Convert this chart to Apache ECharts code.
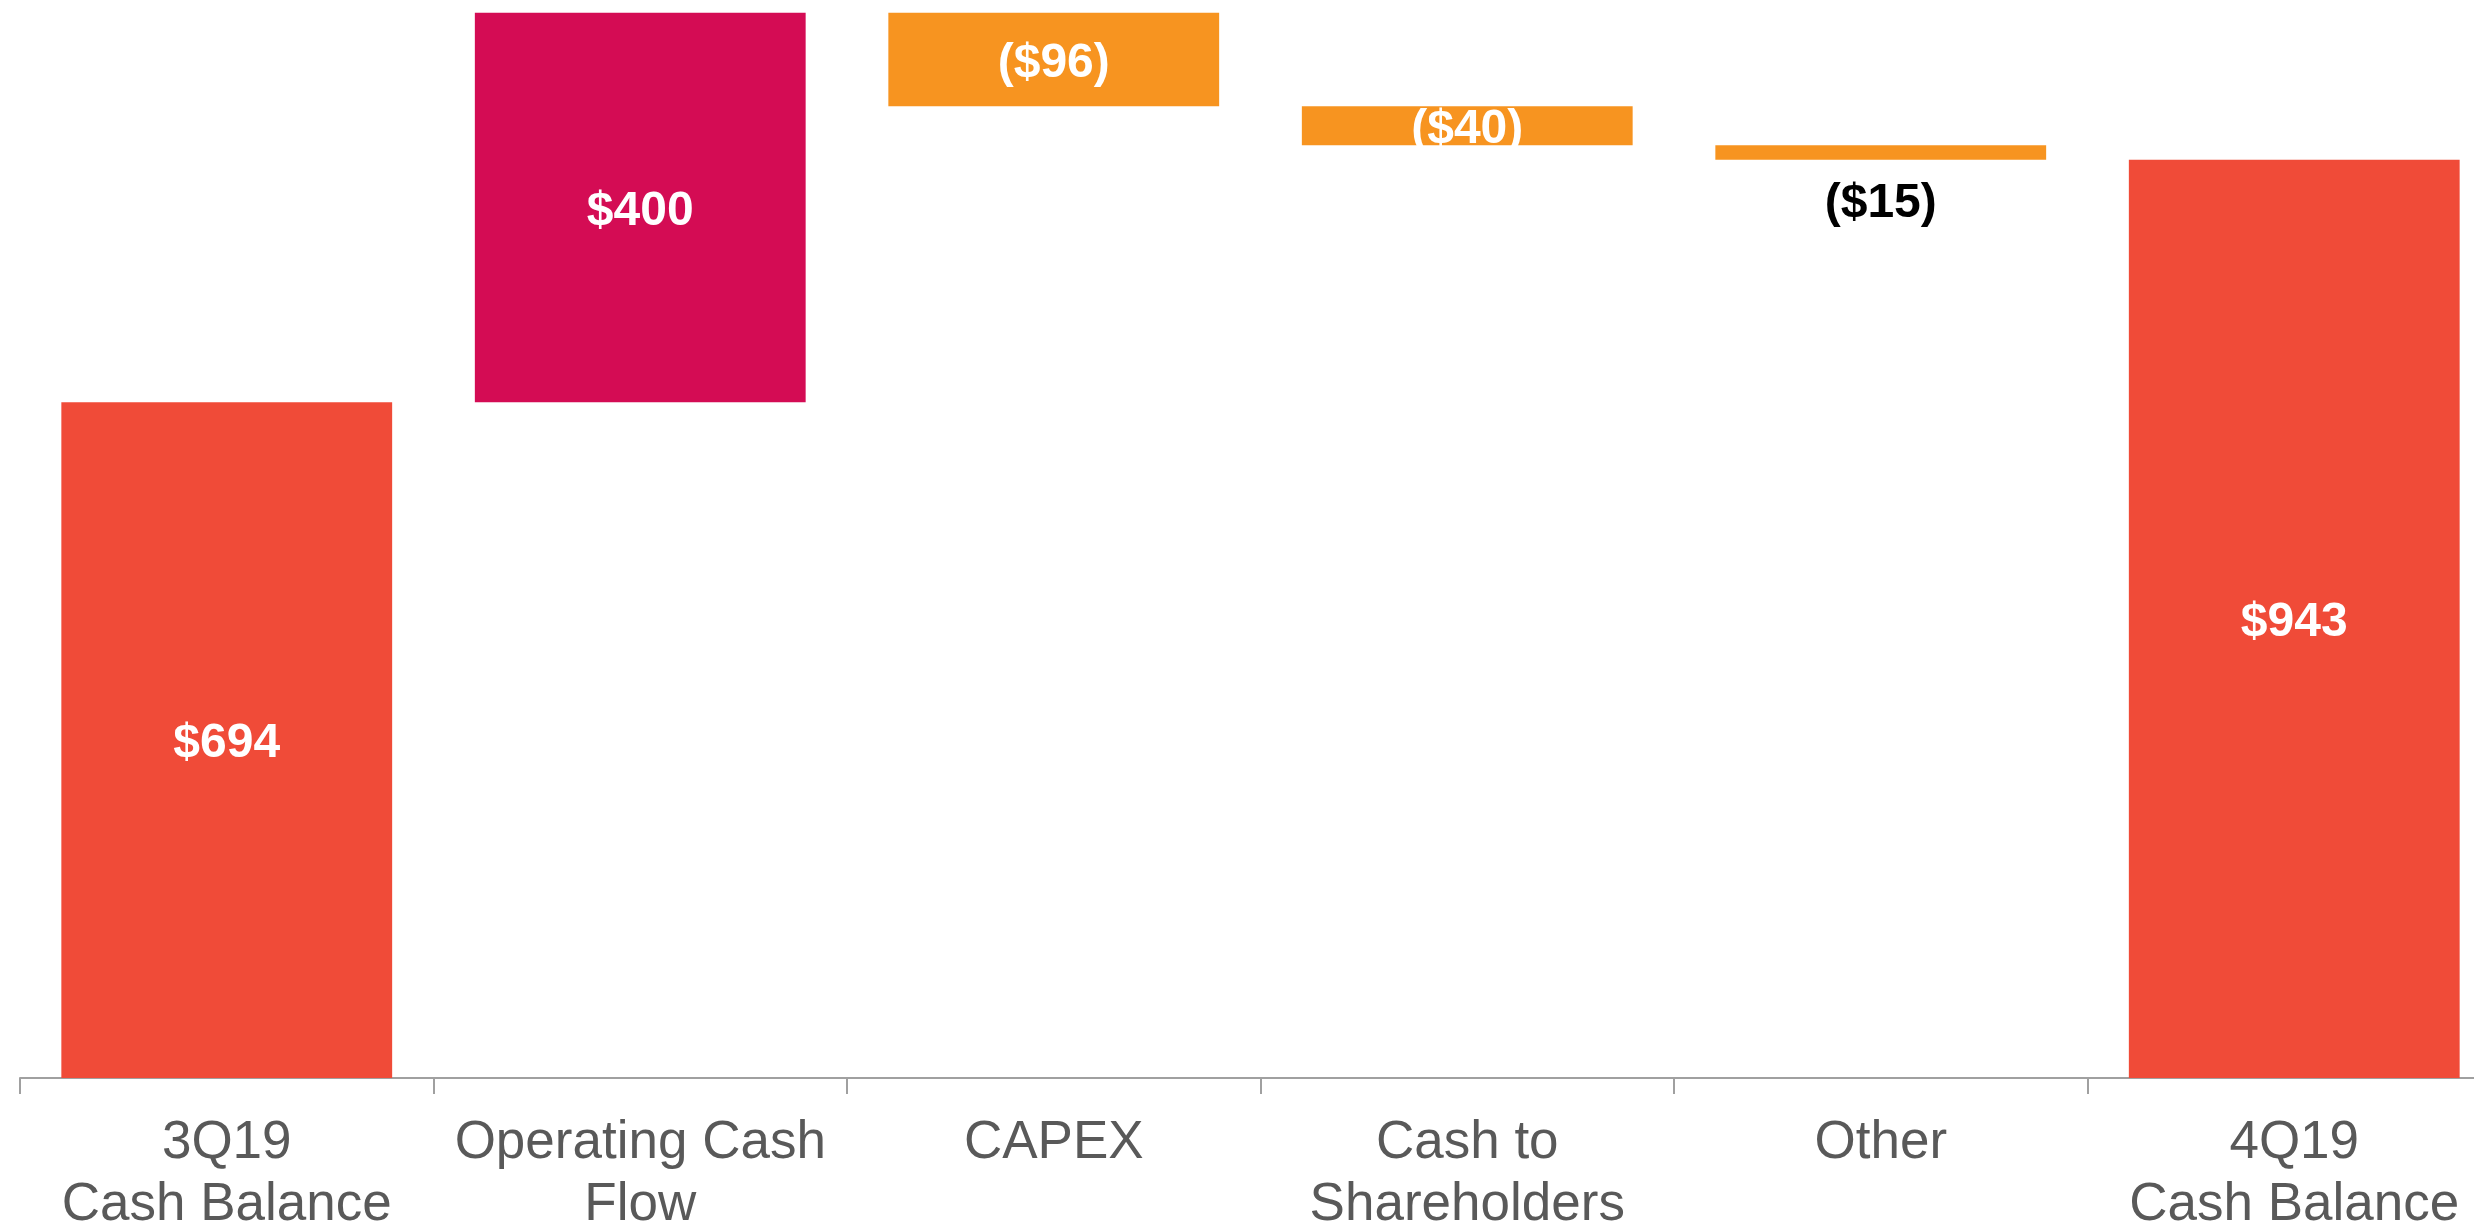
<!DOCTYPE html>
<html>
<head>
<meta charset="utf-8">
<script src="https://cdn.jsdelivr.net/npm/echarts@6/dist/echarts.min.js"></script>
<style>
  html, body { margin: 0; padding: 0; background: #fff; overflow: hidden; }
  #waterfall { width: 2510px; height: 1228px; }
</style>
</head>
<body>
<div id="waterfall"></div>
<script>
// Data
var categories = ['3Q19\nCash Balance', 'Operating Cash\nFlow', 'CAPEX', 'Cash to\nShareholders', 'Other', '4Q19\nCash Balance'];
var values = [694, 400, -96, -40, -15, 943];
var valueLabels = ['$694', '$400', '($96)', '($40)', '($15)', '$943'];
var kinds = ['total', 'up', 'down', 'down', 'down', 'total'];

var colors = {
    total: '#F04B38',
    up: '#D40C54',
    down: '#F79420'
};

// Build invisible base + visible bars from the running total
var baseData = [];
var barData = [];
var running = 0;
values.forEach(function (v, i) {
    var kind = kinds[i];
    var base, height;
    if (kind === 'total') {
        base = 0;
        height = v;
        running = v;
    } else if (v >= 0) {
        base = running;
        height = v;
        running += v;
    } else {
        running += v;
        base = running;
        height = -v;
    }
    baseData.push(base);
    var item = {
        value: height,
        itemStyle: { color: colors[kind] },
        label: { formatter: valueLabels[i] }
    };
    if (i === 4) {
        item.label = {
            formatter: valueLabels[i],
            position: 'bottom',
            distance: 16,
            color: '#000'
        };
    }
    barData.push(item);
});

var waterfall_element = document.getElementById('waterfall');

if (waterfall_element) {

    var waterfall = echarts.init(waterfall_element);

    waterfall.setOption({
        animation: false,
        textStyle: {
            fontFamily: 'Liberation Sans, Arial, sans-serif'
        },
        grid: {
            left: 20,
            right: 9,
            top: 7,
            bottom: 150,
            outerBoundsMode: 'none'
        },
        xAxis: {
            type: 'category',
            data: categories,
            axisLine: {
                lineStyle: { color: '#a0a0a0', width: 2 }
            },
            axisTick: {
                show: true,
                length: 16,
                lineStyle: { color: '#a0a0a0', width: 2 }
            },
            axisLabel: {
                color: '#595959',
                fontSize: 53,
                lineHeight: 62,
                margin: 34,
                interval: 0
            }
        },
        yAxis: {
            type: 'value',
            min: 0,
            max: 1100,
            show: false,
            splitLine: { show: false }
        },
        series: [{
                name: 'Base',
                type: 'bar',
                stack: 'cash',
                barWidth: '80%',
                itemStyle: { color: 'transparent' },
                emphasis: { disabled: true },
                data: baseData
            }, {
                name: 'Cash',
                type: 'bar',
                stack: 'cash',
                barWidth: '80%',
                label: {
                    show: true,
                    position: 'inside',
                    offset: [0, 4],
                    color: '#fff',
                    fontSize: 48,
                    fontWeight: 'bold'
                },
                data: barData
            }]
    });
}
</script>
</body>
</html>
